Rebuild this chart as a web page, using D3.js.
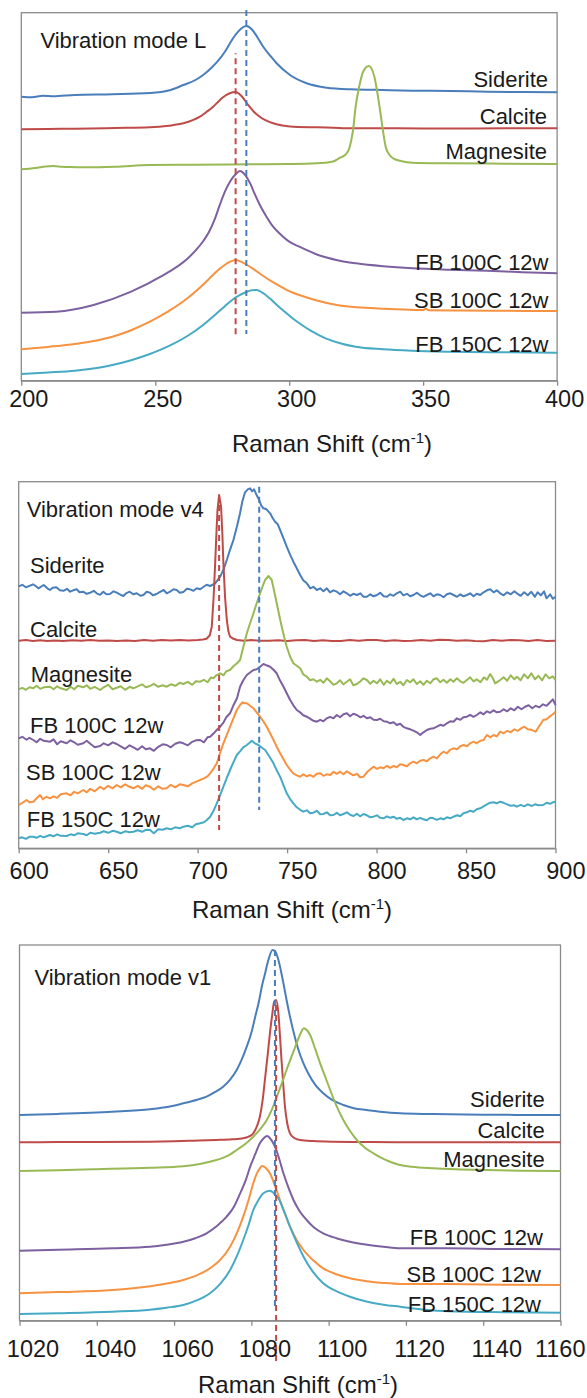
<!DOCTYPE html>
<html>
<head>
<meta charset="utf-8">
<script src="https://cdn.jsdelivr.net/npm/d3@7"></script>
<style>
  html, body { margin: 0; padding: 0; background: #fff; }
  svg { display: block; font-family: "Liberation Sans", Arial, sans-serif; }
</style>
</head>
<body>
<svg id="chart" width="587" height="1398"></svg>
<script>
// ---------------------------------------------------------------
// Data: Raman spectra, [shift (cm-1), offset intensity (a.u.)]
// ---------------------------------------------------------------
const seriesNames = ["Siderite", "Calcite", "Magnesite", "FB 100C 12w", "SB 100C 12w", "FB 150C 12w"];
const seriesColors = ["#4A7EBB", "#BE4B48", "#98B954", "#7D60A0", "#F69240", "#46AAC5"];

const modeLTicks = [200, 250, 300, 350, 400];
const modeV4Ticks = [600, 650, 700, 750, 800, 850, 900];
const modeV1Ticks = [1020, 1040, 1060, 1080, 1100, 1120, 1140, 1160];

// Vibration mode L
const lSiderite = [[200,284],[204,283.5],[208,285],[212,284.4],[220,285.7],[234,286.4],[248,287.7],[255,290.2],[260.5,295.7],[265,300.7],[268,306],[271,313],[273,318.5],[276,329],[278,338],[280,346],[282,352],[284,354.7],[286,351.5],[288,344],[290.3,334],[293,324.7],[295.3,317.4],[300.3,305.7],[306.5,297.4],[314,293],[322.7,291.4],[332,290.9],[346,290],[360,289.7],[374,289],[387,288.7],[400,288.4]];
const lCalcite = [[200,251.4],[210,251.8],[220,252],[235,252.7],[248,253.4],[255,255],[260.5,257.4],[264,260.5],[266.7,264],[269,268.5],[271.6,274],[273.5,279],[275.3,283.4],[277.8,287.4],[280,288.7],[282.2,284.7],[284.7,275.7],[286.8,269],[289,264],[291.5,260],[294,257.4],[301.5,254],[316.4,253],[322.7,252.4],[340,252.4],[360,252.2],[380,252.4],[400,252.4]];
const lMagnesite = [[200,211.4],[203,212],[206,213],[209,214.2],[212,214.6],[215,214],[218,213.6],[224,213.4],[235,214],[248,215.7],[265,216],[285,216.4],[300,216.7],[310,217.4],[316,219],[319,223],[321,226],[322.5,233],[323.8,250],[324.8,274],[326.2,295],[327.6,309],[329.7,314.7],[331.8,304],[332.9,288],[333.9,270.7],[335,250],[336,234],[337.4,226],[338.8,222.4],[342,219.5],[346,218],[360,217.4],[380,217],[400,216.7]];
const lFB100 = [[200,68],[213,69],[227,75.7],[241,89],[252,104],[262,122],[265,130],[268,140],[270,148.5],[272,160],[274,175],[276,189],[278,199.5],[280,206.5],[281.6,209.7],[283,207.5],[284.5,202],[286,194],[287,187.5],[289,176],[291.3,165],[294,154],[297,145.7],[300,139],[303.8,134],[310.8,125.7],[318,120.5],[325,117.4],[335,114.5],[346,112.4],[360,111],[374,110],[387,108.5],[400,107.4]];
const lSB100 = [[200,31.4],[210,33.8],[220,36.7],[234,44],[241,50.5],[248,59],[255,69.5],[262,82.4],[266,91.5],[270.3,102.4],[273,109.5],[275.9,115.7],[278,119],[280,120.7],[282,119],[284.3,115.7],[287,111],[289.8,105.7],[293,100],[296.9,94],[300,89.5],[303.8,85.7],[310,80.5],[317.8,75.7],[324,73.7],[331.8,72.4],[340,71.5],[350,70.7],[351,72],[352,70.5],[365,70.2],[375,70],[388,69.8],[400,69.7]];
const lFB150 = [[200,6.7],[210,8.2],[220,10],[234,15.7],[241,20.5],[248,26.7],[255,34.5],[262,44.7],[268,56],[273,67.4],[276,74.5],[278.7,80.7],[281.5,85.5],[284.3,89],[286,90.4],[287.8,90.7],[290,88],[292.7,82.4],[295.5,75.5],[298.3,69],[301,63],[303.8,57.4],[308,50],[313.6,42.4],[319,37.5],[324.8,34],[335,31.5],[345.8,30],[360,29],[380,28.4],[400,28]];
// dashed markers: [shift, top, bottom]
const lMarkers = [[284, 370.7, 46.7], [280, 327.4, 45]];

// Vibration mode v4
const v4Siderite = [[600,262],[602,263.5],[604,261],[606,262.5],[608,264],[610,261.5],[611,260],[614,263.3],[616,260],[617.5,258.3],[619,260.5],[621,261],[623,258],[625,257.5],[627,259.5],[628.7,256.6],[630.5,258],[632.4,259],[634,256],[636,256.6],[638,254.5],[640,255.6],[642,257.5],[643.6,255],[645.5,253.5],[647.3,256.6],[649,254],[651,254.3],[653,257],[654.8,255.6],[656.5,254],[658.5,252.3],[660,255],[662,256.6],[664,254],[666,255],[668,252.5],[669.7,253.3],[671.5,256.5],[673.4,255.6],[675,253],[677,254.3],[679,256.5],[681,258.3],[682.7,255],[684.6,256.6],[686.5,259],[688.3,258.3],[690,255.5],[692,256.3],[694,259.5],[695.8,259],[697.7,257.5],[699.5,260],[701.4,259],[703,261],[705,263.5],[707,262.3],[709.8,265],[712.6,271.6],[714.5,279],[716.3,288.3],[718,298],[720,308.3],[722,322],[723.7,335],[725,347],[726.5,356],[728,359],[729.3,360],[730.5,357],[731.5,359],[732.1,356.6],[733.3,352],[734.4,348.3],[735.5,343],[736.8,340],[738.5,339],[740.5,335],[742,330],[743.3,326.6],[744.8,324],[746.1,318.3],[748,310],[749.8,301.6],[751.6,294],[753.5,286.6],[755.4,280],[757.3,273.3],[759,268],[761,265],[763,260],[764.7,261.5],[766.6,258.3],[768.5,260],[770.3,257],[772.2,260],[774,256],[775.9,258],[777.8,256.6],[779.6,254],[781.5,257],[783.4,255],[785.2,252.5],[787,254.5],[789,253.3],[791,255],[792.7,251.5],[794.6,251.6],[796.5,254],[798.3,252],[800.2,253.3],[802,255.5],[804,252],[805.8,251.6],[807.6,254],[809.5,252.5],[811.3,255],[813.2,256.6],[815,253],[817,254.5],[818.8,252],[820.6,253.3],[822.5,255.5],[824.4,253],[826.2,251.5],[828.1,253.3],[830,255],[831.8,252],[833.7,254],[835.6,253.3],[837.4,251],[839.3,254],[841.2,255],[843,253.3],[845,251.5],[846.8,254],[848.6,252],[850.5,253.3],[852.3,255],[854.2,252],[856,254.5],[857.9,253.3],[859.8,256],[861.7,258],[863.5,259],[865.4,256],[867.2,258],[869.1,255],[871,253],[873,256],[875,254],[877,257],[878.4,255],[880.5,252.5],[882.5,256],[884.5,253],[886.5,256.5],[888.5,251.5],[890,256],[891.8,253],[893.6,257],[895,250],[897,254],[898.5,249.5],[900,251.6]];
const v4Calcite = [[600,207.6],[604,208.2],[608,207.3],[612,208],[616,207.2],[620,207.8],[625,207.2],[630,208],[635,207.5],[640,208.3],[645,207.6],[650,207.9],[655,207.2],[660,207.8],[665,207.4],[670,208.2],[675,207.5],[680,208.3],[685,207.8],[690,208.4],[695,207.9],[700,208.2],[703,208.8],[705,209.5],[706.8,213],[707.9,221.6],[708.9,250],[709.8,285],[710.5,315],[711.1,338.3],[712,353.3],[713.1,341.6],[713.8,315],[714.4,285],[715.3,252],[716.3,228.3],[717.2,217],[718.1,211.6],[720,209.5],[722,208.3],[726,207.6],[730,208.2],[735,207.5],[740,207.6],[745,208.1],[750,207.3],[755,208],[760,208.3],[765,207.4],[770,208],[775,207.3],[780,207.3],[785,208.2],[790,207.5],[795,208.4],[800,208.3],[805,207.4],[810,208],[815,207.2],[820,207.6],[825,208.4],[830,207.6],[835,208.6],[840,208.3],[845,207.5],[850,208.1],[855,207.4],[860,207],[865,208.3],[870,207.6],[875,208.4],[880,208],[885,207.3],[890,208.2],[895,207.4],[900,207.6]];
const v4Magnesite = [[600,159],[602,160.5],[604,158.5],[606,161],[608.2,160],[610,162.5],[612,159.5],[614,161],[617.5,161.6],[619.5,159],[621.5,162],[623.5,160],[626.8,158.3],[629,161.5],[631,159],[633,162.5],[636.1,161],[638,163],[640,159.5],[642.5,161.5],[645.5,158.3],[647.5,161],[650,163.5],[652.5,159],[654.8,160.6],[657,162],[659.5,158.5],[662,161.5],[664.1,160],[666.5,162],[669,164],[671,161],[673.4,162.3],[675.5,164.5],[678,161.5],[680.5,163],[682.7,161.6],[685,164],[687.5,162.5],[690,165.5],[692,164.3],[694.5,166.5],[697,163.5],[699,167],[701.4,166.6],[703.5,168.5],[705.5,166],[707.5,171],[708.8,170],[710.5,173],[712.6,175],[714.5,173],[716,177],[718.1,178.3],[720,182],[722,185],[723.7,188.3],[725.5,201],[727.5,215],[729.5,226],[731.2,235],[733,245],[734.9,255],[736.3,262],[737.7,268.3],[739.6,272.3],[741.4,268.3],[742.8,257],[744.2,245],[745.6,233],[747,221.6],[748.4,211],[749.8,201.6],[751.6,192],[753.5,185],[755.4,182.5],[757.3,180],[759,174],[761,171.6],[762.9,168],[764.7,169],[766.6,166.6],[768.5,168.5],[770.3,165.5],[772.2,170],[774,167],[775.9,163.5],[777.8,165],[779.6,168],[781.5,164],[783.4,166.6],[785.2,169],[787,163],[789,164.3],[791,167],[792.7,170],[794.6,168.3],[796.5,164.5],[798.3,167.5],[800.2,165],[802,169],[804,163.5],[805.8,167.6],[807.6,165],[809.5,169.5],[811.3,164.3],[813.2,166.5],[815,163],[816.9,168.3],[818.8,166],[820.6,169],[822.5,164.3],[824.4,167],[826.2,163.5],[828.1,167.6],[830,165],[831.8,169],[833.7,170],[835.6,166],[837.4,168.5],[839.3,165.6],[841.2,169],[843,166.5],[844.9,170],[846.8,167],[848.6,165.5],[850.5,168.3],[852.3,171],[854.2,167],[856,169],[858,166],[860,171],[861.7,168.5],[863.5,174.3],[865,170],[866.3,165],[868,167],[869.1,168.3],[871,171],[873,167.5],[875,173],[877,169],[878.4,171.5],[880.5,168],[882.5,174],[884.5,170],[886.5,175],[888.5,169],[890.5,172.5],[892.5,168],[894.5,174],[896.5,170],[898.5,172],[900,168.3]];
const v4FB100 = [[600,110],[602,111.5],[604.4,108.5],[606,110.5],[608.2,108.3],[610,106],[612,109.5],[614,107.5],[617.5,106.6],[619.5,109],[621.5,104],[623.5,107],[626.8,105],[629,108],[631,106],[633,103.5],[636.1,105],[638,107.5],[640,104.5],[642.5,101],[645.5,102.3],[647.5,105],[650,103],[652.5,106],[654.8,104.3],[657,102],[659.5,99.5],[662,103],[664.1,101],[666.5,98.5],[669,102],[671,99],[673.4,100],[675.5,97.5],[678,101.5],[680.5,104],[682.7,103.3],[685,101],[687.5,104.5],[690,106],[692,105],[694.5,103],[697,106.5],[699,108],[701.4,108.3],[703.5,106],[705.5,111],[707,111.6],[709,115],[710.5,118],[712.6,121.6],[714.5,126],[716,131],[718.1,135],[720,143],[722,150],[723.7,161.6],[725.5,168],[727.5,173.3],[729.5,176],[731.2,178.3],[733,179],[734.9,181.6],[736.8,184.3],[738.5,183],[740.5,181.6],[742.4,178.5],[744.2,175],[746,168],[748,161.6],[749.8,155],[751.7,148.3],[753.5,143],[755.4,138.3],[757.3,136],[759,133],[761,131.6],[763,129.5],[764.7,127.5],[766.6,126.6],[768.5,128.5],[770.3,127],[772.2,130],[774,131.5],[775.9,130],[777.8,133.3],[779.6,131],[781.5,134],[783.4,135],[785.2,132],[787,134.5],[789,133.3],[791,131],[792.7,132.5],[794.6,130],[796.5,131],[798.3,128.5],[800.2,128.3],[802,129.5],[804,127],[805.8,126.6],[807.6,125],[809.5,126],[811.3,123.3],[813.2,124.5],[815,121.5],[816.9,120],[818.8,119],[820.6,117.6],[822.5,116],[824.4,113.3],[826.2,116],[828.1,118.3],[830,119.5],[831.8,120],[833.7,121.6],[835.6,123.5],[837.4,122.5],[839.3,125],[841.2,127],[843,126.5],[844.9,130],[846.8,128.5],[848.6,131],[850.5,131.6],[852.3,133.5],[854.2,131.5],[856,133.3],[858,136],[859.8,134],[861.7,137],[863.5,135.5],[865.4,138],[867.2,136],[869.1,136.6],[871,139],[873,137],[875,140],[877,138],[879,141.5],[881,139],[883,141.6],[885,143],[887,140],[889,142.5],[891,141],[893,144],[895,142.5],[897.3,146.6],[898.5,149],[900,143.3]];
const v4SB100 = [[600,43.3],[602,45.5],[604.4,48.3],[606,46],[608.2,46.6],[610,50],[611.9,53.3],[613.5,49],[615.5,51.5],[617.5,50],[619.5,52],[621.5,50.5],[623.5,54],[626.8,55],[629,53],[631,56.5],[633,55],[636.1,58.3],[638,56],[640,59.5],[642.5,57],[645.5,61.6],[647.5,59],[650,62.5],[652.5,60],[654.8,63.3],[657,61],[659.5,64],[662,61.5],[664.1,60],[666.5,62.5],[669,59.5],[671,63],[673.4,61.6],[675.5,58.5],[678,62],[680.5,59.5],[682.7,60],[685,63.5],[687.5,61],[690,64],[692,63.3],[694.5,62],[697,65],[699,66.5],[701.4,68.3],[703.5,70],[705.5,72],[707,75],[709,80],[710.7,85],[712.5,95],[714.4,105],[716.2,113],[718.1,121.6],[720,130],[721.9,138.3],[723.7,143.3],[725.2,146],[726.5,145],[727.5,145],[729.3,142.5],[731.2,140],[733,136],[734.9,131.6],[736.7,127],[738.6,121.6],[740.5,115],[742.4,108.3],[744.2,101.5],[746.1,95],[748,89],[749.8,83.3],[751.6,79],[753.5,75],[755.4,73],[757.3,71.6],[759,74],[761,72],[762.9,73.3],[764.7,71.5],[766.6,74.5],[768.5,75],[770.3,72.5],[772.2,74],[774.1,73.3],[776,76.5],[777.8,74.5],[779.6,76.6],[781.5,74],[783.4,77],[785.2,75],[787,73],[789,74.5],[790.8,71],[792.7,71.6],[794.6,76],[796.5,79],[798.3,81.6],[800.2,79.5],[802,81],[803.9,80],[805.8,82.5],[807.6,80.5],[809.5,82.3],[811.3,81],[813.2,84],[815,83.3],[817,82],[818.8,85],[820.6,86.6],[822.5,85],[824.4,87.5],[826.2,88.3],[828.1,87],[830,90],[831.8,91.6],[833.7,90],[835.6,94],[837.4,96.6],[839.3,95],[841.2,98.5],[843,100],[845,99],[846.8,102],[848.6,103.3],[850.5,102],[852.3,105],[854.2,106.6],[856,105],[858,107.5],[859.8,108.3],[861.7,113.3],[863.5,111],[865.4,113.3],[867.2,112],[869.1,116.6],[871,115],[873,117.5],[875,116],[877,119],[879,117.5],[880.8,120],[882.6,121.6],[884.5,119],[886.5,118.5],[888.9,116.6],[890.5,121],[892,125],[893.1,128.3],[895,129],[897,132],[898.5,134],[900,136.6]];
const v4FB150 = [[600,10],[602,11],[604,9.5],[606,11.5],[608.2,11.6],[610,10.5],[612,12.5],[614,11],[617.5,13.3],[619.5,12],[621.5,14],[623.5,12.5],[626.8,12.3],[629,14],[631,13],[633,15],[636.1,14.3],[638,13],[640,15.5],[642.5,14.5],[645.5,15.6],[647.5,17],[650,15.5],[652.5,17.5],[654.8,16.6],[657,15],[659.5,17],[662,16],[664.1,16.6],[666.5,18],[669,16.5],[671,18.5],[673.4,18.3],[675.5,15],[678,19],[680.5,18.5],[682.7,20],[685,19],[687.5,21],[690,20],[692,21.6],[694.5,22.5],[697,21],[699,24],[701.4,25],[703.5,26],[705,28],[707,31.6],[709,38],[710.7,45],[712.5,53],[714.4,61.6],[716.2,70],[718.1,78.3],[720,86],[721.9,93.3],[723.7,97],[725.5,101],[727.5,103.3],[729,105.5],[730.3,107.6],[732,105],[734,103.3],[736,100.5],[737.7,98.3],[740,92],[742.4,85],[744.2,78],[746.1,71.6],[748,63],[749.8,55],[751.6,49.5],[753.5,45],[755.4,41],[757.3,38.5],[759.1,36.6],[761,38],[762.9,35],[764.7,35.6],[766.6,37.5],[768.5,34],[770.3,34.3],[772.2,36],[774,33],[775.9,33.3],[777.8,35.5],[779.6,33],[781.5,34.3],[783.4,36],[785.2,33.5],[787.1,32.3],[789,34.5],[790.8,32],[792.7,34.3],[794.6,33],[796.5,31],[798.3,31.6],[800.2,33],[802,30.5],[803.9,30],[805.8,32],[807.6,30.5],[809.5,31.6],[811.3,29.5],[813.2,30.5],[815,28.3],[817,30],[818.8,29],[820.6,31],[822.5,29],[824.4,30.5],[826.2,29],[828.1,28],[830,30.5],[831.8,30],[833.7,28.5],[835.6,30],[837.4,29],[839.3,31],[841.2,30],[843,31.6],[845,33],[846.8,32],[848.6,35],[850.5,36],[852.3,37.6],[854.2,36.5],[856,39],[857.9,40],[859.8,42],[861.7,44],[863.5,45.6],[865.4,46],[867.2,45],[869.1,46.6],[871,45.5],[873,44],[875,42.5],[877,43],[878.4,41.6],[880.5,43.5],[882.5,42],[884.5,44],[886.8,42.3],[888.5,44],[890.5,43],[893.1,43.3],[895,45.5],[897,44.5],[898.5,46],[900,46.6]];
const v4Markers = [[734.4, 361.6, 38.3], [712, 348.3, 18.3]];

// Vibration mode v1
const v1Siderite = [[1020,205.7],[1030,206.8],[1044,209],[1053.8,211.5],[1058.6,214],[1062.4,217.4],[1066,221],[1068.4,224],[1070.5,228.5],[1072.7,234],[1074.5,241],[1076.2,250.7],[1077.5,261],[1078.8,274],[1080,288],[1081,304],[1082,320],[1082.7,334],[1083.6,348],[1084.4,360.7],[1085.5,370.7],[1086.2,369],[1087,360.7],[1087.7,349],[1088.3,337.4],[1089.1,321],[1090,304],[1091.1,286],[1092.2,270.7],[1093.4,258],[1094.7,247.4],[1096.5,236],[1098.6,227.4],[1101,220.5],[1103.8,215.7],[1106.5,212.5],[1109.8,210.7],[1114,208.7],[1118.5,207.4],[1125,206.7],[1131.2,206.5],[1140,206],[1150,205.8],[1160,205.7]];
const v1Calcite = [[1020,178.4],[1030,178.6],[1040,178.8],[1053.8,179],[1060,179.4],[1065,180],[1071,180.7],[1075,181.4],[1077.9,182.4],[1079.3,184],[1080.5,187.4],[1081.4,194],[1082.2,204],[1082.9,220],[1083.5,240.7],[1084.2,265],[1084.8,287.4],[1085.4,306],[1085.9,319],[1086.4,320.7],[1087,307.4],[1087.4,285],[1087.8,260.7],[1088.3,234],[1088.7,214],[1089.3,197],[1090,187.4],[1091,183],[1092.6,180.7],[1096,179.6],[1101.2,179],[1110,178.7],[1118.5,178.4],[1130,178.4],[1145,178.4],[1160,178.4]];
const v1Magnesite = [[1020,149.7],[1030,150.5],[1040,151.5],[1053.7,153],[1062.4,154.5],[1067,157],[1071,160.7],[1074,165],[1076.2,170.7],[1078.5,177],[1080.5,184],[1082.3,191.5],[1084,200.7],[1085.3,211],[1086.6,224],[1087.9,237.5],[1089.1,250.7],[1090.4,264],[1091.7,277.4],[1092.7,287],[1093.6,292.4],[1094.4,290.5],[1095.2,285.7],[1096.5,272],[1097.8,257.4],[1099.1,244],[1100.4,230.7],[1102,215],[1103.8,200.7],[1105.5,190],[1107.3,180.7],[1109.4,173],[1111.6,167.4],[1113.8,162.5],[1115.9,159],[1118.5,155.7],[1121.5,154],[1127,152.5],[1133,151.5],[1140.9,150.7],[1150,150],[1160,149.7]];
const v1FB100 = [[1020,70],[1030,71],[1044,72.4],[1053.8,74],[1058,76],[1062.4,79],[1065.5,82.5],[1068.4,87.4],[1071,94.5],[1073.6,104],[1075.5,114],[1077.1,127.4],[1078.5,140],[1079.7,154],[1081,166.5],[1082.2,177.4],[1083.2,182.5],[1084.1,184.7],[1085.1,181],[1086.1,174],[1087.2,162],[1088.3,147.4],[1089.6,133],[1090.9,120.7],[1092.5,109.5],[1094.3,100.7],[1096.3,93],[1098.6,87.4],[1102,82.5],[1105.5,79],[1110,76],[1114.2,74],[1118.5,72.4],[1130,72.4],[1145,71.8],[1160,71.4]];
const v1SB100 = [[1020,27.4],[1030,28.6],[1044,30.7],[1053.8,34.5],[1058.6,37.4],[1062.4,40.7],[1066,45.5],[1069.3,52.4],[1072,61],[1074.5,74],[1076.3,88],[1077.9,104],[1079.3,121],[1080.5,137.4],[1081.4,147],[1082.2,152.4],[1082.8,154.7],[1083.8,152.5],[1084.8,147.4],[1086.1,135],[1087.4,120.7],[1088.7,107],[1090,94],[1091.7,81],[1093.5,70.7],[1096,60.5],[1098.6,52.4],[1102,46.5],[1105.5,42.4],[1110,39.5],[1114.2,37.8],[1118.5,36.8],[1131,36.7],[1145,36],[1160,35.7]];
const v1FB150 = [[1020,6.7],[1030,7.5],[1044,9],[1053.8,11],[1058,13],[1062.4,15.7],[1066,20.5],[1069.3,27.4],[1072,37],[1074.5,50.7],[1076.3,65],[1077.9,80.7],[1079.3,96],[1080.5,110.7],[1081.8,120.5],[1083.1,127.4],[1084.8,130],[1085.8,127.5],[1087,122.4],[1088.5,109],[1090,94],[1091.7,78.5],[1093.5,64],[1096,48.5],[1098.6,37.4],[1102,29.5],[1105.5,24],[1110,19],[1114.2,16],[1118.5,14],[1125,11],[1131,9.5],[1145,8.5],[1160,8]];
const v1Markers = [[1086.1, 370.7, 10.7], [1086.4, 320.7, -42.3]];

// ---------------------------------------------------------------
// Panel layout (reference pixel positions)
// ---------------------------------------------------------------
const panels = [
  {
    left: 21.3, right: 557.1, top: 12.7, bottom: 380.7, yMax: 368,
    xDomain: [200, 400], ticks: modeLTicks, labelShift: 7, tickBase: 407.3,
    titleX: 332, titleBase: 451.7, smooth: true,
    mode: "Vibration mode L", modeX: 40.4, modeBase: 48.3,
    data: [lSiderite, lCalcite, lMagnesite, lFB100, lSB100, lFB150],
    markers: lMarkers,
    labelAnchor: "end",
    labels: [[548, 87.3], [547, 124], [547, 159.3], [548.5, 270], [548.5, 308.3], [548.5, 351.7]]
  },
  {
    left: 18.7, right: 555.5, top: 481.7, bottom: 848.3, yMax: 366.6,
    xDomain: [600, 900], ticks: modeV4Ticks, labelShift: 10, tickBase: 879.3,
    titleX: 292, titleBase: 918.3, smooth: false,
    mode: "Vibration mode v4", modeX: 26.7, modeBase: 516.7,
    data: [v4Siderite, v4Calcite, v4Magnesite, v4FB100, v4SB100, v4FB150],
    markers: v4Markers,
    labelAnchor: "start",
    labels: [[30, 573.3], [30, 636.7], [30.7, 681.7], [30, 732.7], [26, 780], [26.7, 827.3]]
  },
  {
    left: 19.5, right: 560.5, top: 945, bottom: 1320.7, yMax: 375.7,
    xDomain: [1020, 1160], ticks: modeV1Ticks, labelShift: 13, tickBase: 1356.7,
    titleX: 298, titleBase: 1393, smooth: true,
    mode: "Vibration mode v1", modeX: 34.4, modeBase: 985,
    data: [v1Siderite, v1Calcite, v1Magnesite, v1FB100, v1SB100, v1FB150],
    markers: v1Markers,
    labelAnchor: "end",
    labels: [[544.7, 1107.3], [544.7, 1138.3], [544.7, 1166.7], [543, 1245], [541, 1281.7], [541, 1311.7]]
  }
];

const svg = d3.select("#chart");
const FONT = 22;
const TICK_FONT = 23.5;
const TITLE_FONT = 24;
const TEXT_COLOR = "#1a1a1a";
const FRAME_COLOR = "#8a8a8a";

function drawPanel(p) {
  const x = d3.scaleLinear().domain(p.xDomain).range([p.left, p.right]);
  const y = d3.scaleLinear().domain([0, p.yMax]).range([p.bottom, p.top]);
  const g = svg.append("g");

  // plot frame (left / top / right)
  g.append("rect")
    .attr("x", p.left).attr("y", p.top)
    .attr("width", p.right - p.left).attr("height", p.bottom - p.top)
    .attr("fill", "none")
    .attr("stroke", FRAME_COLOR)
    .attr("stroke-width", 1.3);

  // spectra
  const line = d3.line()
    .x(d => x(d[0]))
    .y(d => y(d[1]))
    .curve(p.smooth ? d3.curveMonotoneX : d3.curveLinear);

  p.data.forEach((series, i) => {
    g.append("path")
      .datum(series)
      .attr("fill", "none")
      .attr("stroke", seriesColors[i])
      .attr("stroke-width", 2)
      .attr("stroke-linejoin", "round")
      .attr("d", line);
  });

  // dashed peak markers (blue = siderite, red = calcite)
  p.markers.forEach((m, i) => {
    g.append("line")
      .attr("x1", x(m[0])).attr("x2", x(m[0]))
      .attr("y1", y(m[1])).attr("y2", y(m[2]))
      .attr("stroke", seriesColors[i])
      .attr("stroke-width", 2)
      .attr("stroke-dasharray", "6,4")
      .attr("stroke-dashoffset", i * 5);
  });

  // x axis
  const axis = g.append("g")
    .attr("transform", `translate(0,${p.bottom})`)
    .call(d3.axisBottom(x).tickValues(p.ticks).tickSize(5).tickSizeOuter(0).tickFormat(d3.format("d")));

  axis.select(".domain").attr("stroke", FRAME_COLOR).attr("stroke-width", 1.3);
  axis.selectAll(".tick line").attr("stroke", FRAME_COLOR).attr("stroke-width", 1.3);
  axis.selectAll(".tick text")
    .attr("fill", TEXT_COLOR)
    .attr("font-size", TICK_FONT)
    .attr("font-family", "Liberation Sans, Arial, sans-serif")
    .attr("dy", 0)
    .attr("y", p.tickBase - p.bottom)
    .attr("x", p.labelShift)
    .each(function(d) {
      // keep the last label inside the picture
      const t = d3.select(this);
      const w = this.getComputedTextLength();
      const cx = x(d) + p.labelShift;
      if (cx + w / 2 > 585) t.attr("x", 585 - w / 2 - x(d));
    });

  // axis title
  const title = g.append("text")
    .attr("x", p.titleX).attr("y", p.titleBase)
    .attr("text-anchor", "middle")
    .attr("fill", TEXT_COLOR)
    .attr("font-size", TITLE_FONT);
  title.append("tspan").text("Raman Shift (cm");
  title.append("tspan").attr("dy", -9).attr("font-size", 15).text("-1");
  title.append("tspan").attr("dy", 9).text(")");

  // mode caption
  g.append("text")
    .attr("x", p.modeX).attr("y", p.modeBase)
    .attr("fill", TEXT_COLOR)
    .attr("font-size", FONT)
    .text(p.mode);

  // series labels
  seriesNames.forEach((name, i) => {
    g.append("text")
      .attr("x", p.labels[i][0]).attr("y", p.labels[i][1])
      .attr("text-anchor", p.labelAnchor)
      .attr("fill", TEXT_COLOR)
      .attr("font-size", FONT)
      .text(name);
  });
}

panels.forEach(drawPanel);
</script>
</body>
</html>
